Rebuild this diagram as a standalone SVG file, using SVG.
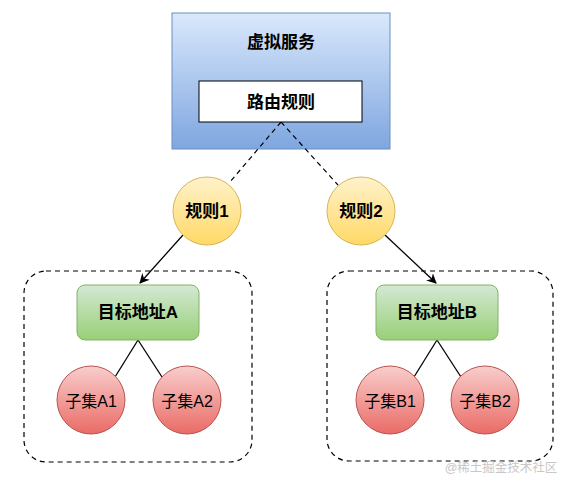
<svg xmlns="http://www.w3.org/2000/svg" width="569" height="489" viewBox="0 0 569 489">
<style>
text{font-family:"Liberation Sans","Noto Sans CJK SC",sans-serif;font-size:16px;fill:#000;text-anchor:middle;dominant-baseline:central}
.b{font-weight:bold;font-size:17px}
.dash{fill:none;stroke:#000;stroke-width:1.2;stroke-dasharray:5 4}
.ln{fill:none;stroke:#000;stroke-width:1.3}
</style>
<defs>
<linearGradient id="gBlue" x1="0" y1="0" x2="0" y2="1"><stop offset="0" stop-color="#dae8fc"/><stop offset="1" stop-color="#7ea6e0"/></linearGradient>
<linearGradient id="gYel" x1="0" y1="0" x2="0" y2="1"><stop offset="0" stop-color="#fff2cc"/><stop offset="1" stop-color="#ffd966"/></linearGradient>
<linearGradient id="gGrn" x1="0" y1="0" x2="0" y2="1"><stop offset="0" stop-color="#d5e8d4"/><stop offset="1" stop-color="#97d077"/></linearGradient>
<linearGradient id="gRed" x1="0" y1="0" x2="0" y2="1"><stop offset="0" stop-color="#f8cecc"/><stop offset="1" stop-color="#ea6b66"/></linearGradient>
<marker id="arr" viewBox="0 0 10 10" refX="9" refY="5" markerWidth="10" markerHeight="10" markerUnits="userSpaceOnUse" orient="auto"><path d="M0,0 L10,5 L0,10 L3,5 Z" fill="#000"/></marker>
</defs>

<g id="groupA"><rect x="24" y="271" width="228" height="191" rx="22" class="dash"/></g>
<g id="groupB"><rect x="327" y="271" width="226" height="190" rx="22" class="dash"/></g>

<g id="virtualService">
<rect x="172" y="13" width="218" height="136" fill="url(#gBlue)" stroke="#6c8ebf"/>
<text x="281" y="42" class="b">虚拟服务</text>
</g>

<g id="connectors">
<path d="M281,122 L230,182" class="dash"/>
<path d="M281,122 L338,185" class="dash"/>
<path d="M183,235 L140,283" class="ln" marker-end="url(#arr)"/>
<path d="M385,235 L436,283" class="ln" marker-end="url(#arr)"/>
<path d="M138,340 L115,377" class="ln"/>
<path d="M138,340 L162,377" class="ln"/>
<path d="M437,340 L414,377" class="ln"/>
<path d="M437,340 L461,377" class="ln"/>
</g>

<g id="routeRules">
<rect x="199" y="81" width="163" height="41" fill="#fff" stroke="#000"/>
<text x="281" y="102" class="b">路由规则</text>
</g>

<g id="rule1"><circle cx="207" cy="211" r="34" fill="url(#gYel)" stroke="#d6b656"/><text x="207" y="211" class="b">规则1</text></g>
<g id="rule2"><circle cx="361" cy="211" r="34" fill="url(#gYel)" stroke="#d6b656"/><text x="361" y="211" class="b">规则2</text></g>

<g id="targetA"><rect x="77" y="285" width="122" height="55" rx="8" fill="url(#gGrn)" stroke="#82b366"/><text x="138" y="312" class="b">目标地址A</text></g>
<g id="targetB"><rect x="376" y="285" width="122" height="55" rx="8" fill="url(#gGrn)" stroke="#82b366"/><text x="437" y="312" class="b">目标地址B</text></g>

<g id="subsetA1"><circle cx="91" cy="400" r="34" fill="url(#gRed)" stroke="#b85450"/><text x="91" y="401">子集A1</text></g>
<g id="subsetA2"><circle cx="187" cy="400" r="34" fill="url(#gRed)" stroke="#b85450"/><text x="187" y="401">子集A2</text></g>
<g id="subsetB1"><circle cx="390" cy="400" r="34" fill="url(#gRed)" stroke="#b85450"/><text x="390" y="401">子集B1</text></g>
<g id="subsetB2"><circle cx="485" cy="400" r="34" fill="url(#gRed)" stroke="#b85450"/><text x="485" y="401">子集B2</text></g>

<text x="501" y="468" style="font-size:12.5px;fill:#c8c8c8">@稀土掘金技术社区</text>
</svg>
